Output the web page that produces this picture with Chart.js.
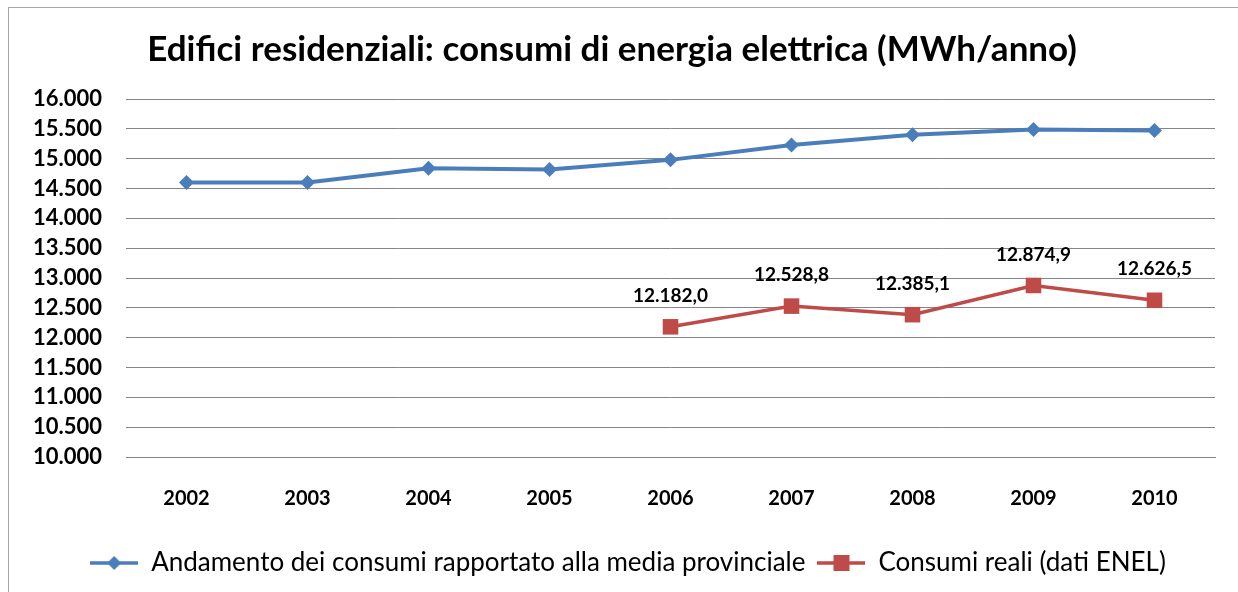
<!DOCTYPE html>
<html>
<head>
<meta charset="utf-8">
<script src="https://cdn.jsdelivr.net/npm/chart.js@4.4.0/dist/chart.umd.min.js"></script>
<style>
	html, body { margin: 0; padding: 0; background: #fff; }
	#frame { position: absolute; left: 8px; top: 7px; width: 1240px; height: 600px; border: 1px solid #a6a6a6; box-sizing: border-box; }
	#wrap { position: absolute; left: 0; top: 0; width: 1238px; height: 592px; }
</style>
</head>
<body>
<div id="frame"></div>
<div id="wrap"><canvas id="chart" width="1238" height="592"></canvas></div>
<script>
var years = ["2002", "2003", "2004", "2005", "2006", "2007", "2008", "2009", "2010"]
var provincial = [14600, 14600, 14840, 14820, 14980, 15230, 15400, 15490, 15470]
var enel = [null, null, null, null, 12182.0, 12528.8, 12385.1, 12874.9, 12626.5]
var seriesNames = ["Andamento dei consumi rapportato alla media provinciale", "Consumi reali (dati ENEL)"]

var BLUE = "#4a7ebb"
var RED = "#be4b48"
var FONT = "Lato, 'DejaVu Sans', sans-serif"

// italian number format: 12.182,0
function fmt(v, dec) {
	var parts = v.toFixed(dec).split(".")
	var whole = parts[0].replace(/\B(?=(\d{3})+(?!\d))/g, ".")
	return dec ? whole + "," + parts[1] : whole
}

// little line + marker used in the legend
function legendMarker(color, shape) {
	var c = document.createElement("canvas")
	c.width = 48
	c.height = 18
	var ctx = c.getContext("2d")
	ctx.strokeStyle = color
	ctx.lineWidth = 3.5
	ctx.beginPath()
	ctx.moveTo(0, 9)
	ctx.lineTo(48, 9)
	ctx.stroke()
	ctx.fillStyle = color
	ctx.beginPath()
	if (shape == "diamond") {
		ctx.moveTo(24, 2); ctx.lineTo(31, 9); ctx.lineTo(24, 16); ctx.lineTo(17, 9)
	} else {
		ctx.rect(16, 1, 16, 16)
	}
	ctx.closePath()
	ctx.fill()
	return c
}

var dataLabels = {
	id: "dataLabels",
	afterDatasetsDraw: function(chart) {
		var ctx = chart.ctx
		var meta = chart.getDatasetMeta(1)
		ctx.save()
		ctx.font = "bold 19px " + FONT
		ctx.fillStyle = "#000"
		ctx.textAlign = "center"
		ctx.textBaseline = "middle"
		meta.data.forEach(function(pt, i) {
			if (enel[i] == null) return
			ctx.fillText(fmt(enel[i], 1), pt.x, pt.y - 31)
		})
		ctx.restore()
	}
}

// the legend sits a bit right of centre in the original
var legendShift = {
	id: "legendShift",
	afterLayout: function(chart) {
		chart.legend.left += 16
		chart.legend.right += 16
	}
}

new Chart(document.getElementById("chart"), {
	type: "line",
	data: {
		labels: years,
		datasets: [{
			label: seriesNames[0],
			data: provincial,
			borderColor: BLUE,
			backgroundColor: BLUE,
			borderWidth: 4,
			pointStyle: "rectRot",
			pointRadius: 7.5,
			pointBorderWidth: 0,
			tension: 0
		}, {
			label: seriesNames[1],
			data: enel,
			borderColor: RED,
			backgroundColor: RED,
			borderWidth: 3.5,
			pointStyle: "rect",
			pointRadius: 11,
			pointBorderWidth: 0,
			tension: 0
		}]
	},
	options: {
		responsive: false,
		animation: false,
		layout: { padding: { left: 9, right: 23, top: 0, bottom: 6 } },
		plugins: {
			title: {
				display: true,
				text: "Edifici residenziali: consumi di energia elettrica (MWh/anno)",
				color: "#000",
				font: { family: FONT, size: 35, weight: "bold" },
				padding: { top: 29, bottom: 28 }
			},
			legend: {
				position: "bottom",
				labels: {
					color: "#000",
					font: { family: FONT, size: 26 },
					usePointStyle: true,
					pointStyleWidth: 48,
					padding: 12,
					generateLabels: function(chart) {
						return [
							{ text: seriesNames[0], pointStyle: legendMarker(BLUE, "diamond"), fillStyle: BLUE, strokeStyle: BLUE, lineWidth: 0, datasetIndex: 0 },
							{ text: seriesNames[1], pointStyle: legendMarker(RED, "square"), fillStyle: RED, strokeStyle: RED, lineWidth: 0, datasetIndex: 1 }
						]
					}
				}
			},
			tooltip: { enabled: false }
		},
		scales: {
			x: {
				offset: true,
				grid: { display: false },
				border: { display: true, color: "#868686", width: 1 },
				ticks: { color: "#000", font: { family: FONT, size: 20, weight: "bold" }, padding: 22 },
				afterFit: function(scale) { scale.height += 5 }
			},
			y: {
				min: 10000,
				max: 16000,
				grid: { color: "#868686", lineWidth: 1, drawTicks: false },
				border: { display: false },
				ticks: {
					stepSize: 500,
					autoSkip: false,
					color: "#000",
					padding: 24,
					font: { family: FONT, size: 22, weight: "bold" },
					callback: function(v) { return fmt(v, 0) }
				}
			}
		}
	},
	plugins: [dataLabels, legendShift]
})
</script>
</body>
</html>
